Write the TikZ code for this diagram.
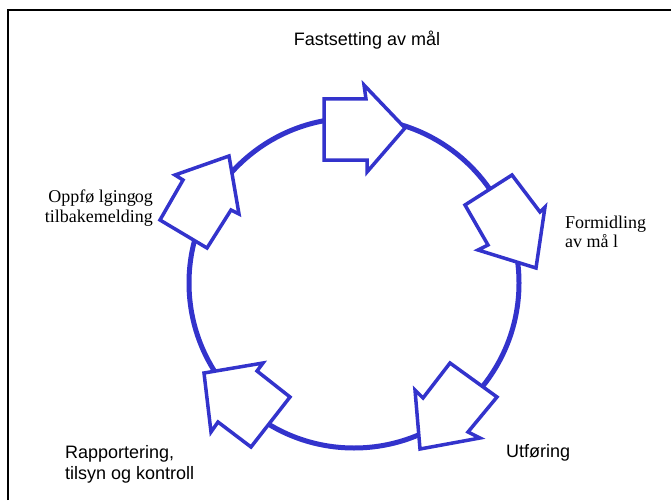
\documentclass[tikz,border=0pt]{standalone}
\usepackage{fontspec}
\setmainfont{Liberation Serif}
\newfontfamily\arialf{Liberation Sans}
\definecolor{arrowblue}{RGB}{51,51,204}
\tikzset{
  blockarrow/.style={draw=arrowblue, fill=white, line width=3.5pt, line join=miter},
  sanslabel/.style={font=\arialf\fontsize{18}{21}\selectfont, inner sep=0pt},
  seriflabel/.style={font=\fontsize{18}{21}\selectfont, inner sep=0pt}
}
\begin{document}
\begin{tikzpicture}[x=1pt,y=-1pt]
\useasboundingbox (0,0) rectangle (671,500);
% frame (top and left edges only)
\draw[line width=2pt] (8,500) |- (671,10);
% ring
\draw[arrowblue, line width=5pt] (354,283) circle[radius=165pt];
% block arrows
\draw[blockarrow] (324,99) -- (366,99) -- (364,85) -- (405,128) -- (367,172) -- (367,160) -- (324,160) -- cycle;
\draw[blockarrow] (465,205) -- (512,175) -- (540,212) -- (545,207) -- (536,268) -- (478,250) -- (488,245) -- cycle;
\draw[blockarrow] (450,363) -- (497,397) -- (468,432) -- (480,438) -- (420,449) -- (415,390) -- (423,398) -- cycle;
\draw[blockarrow] (290,397) -- (251,447) -- (218,422) -- (211,432) -- (204,373) -- (263,363) -- (257,371) -- cycle;
\draw[blockarrow] (160,220) -- (207,248) -- (231,210) -- (239,214) -- (229,156) -- (175,175) -- (183,180) -- cycle;
% labels
\node[sanslabel, anchor=base] (fast) at (367,46) {Fastsetting av mål};
\node[seriflabel, anchor=base west] (form1) at (565,228) {Formidling};
\node[seriflabel, anchor=base west] (form2) at (565,247) {av må l};
\node[sanslabel, anchor=base west] (utf) at (506,457) {Utføring};
\node[sanslabel, anchor=base west] (rap1) at (65,458) {Rapportering,};
\node[sanslabel, anchor=base west] (rap2) at (65,479) {tilsyn og kontroll};
\node[seriflabel, anchor=base east] (opp1) at (153,202) {Oppfø lging\kern-1pt og};
\node[seriflabel, anchor=base east] (opp2) at (153,222) {tilbakemelding};
\end{tikzpicture}
\end{document}
